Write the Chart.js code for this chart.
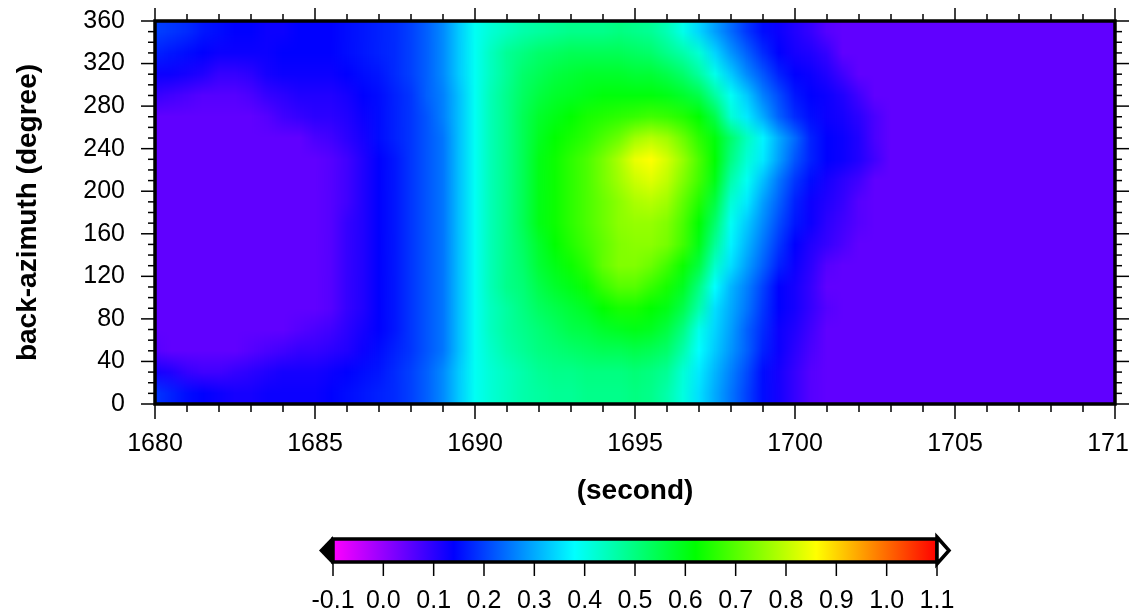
<!DOCTYPE html>
<html>
<head>
<meta charset="utf-8">
<title>back-azimuth</title>
<script src="https://cdn.jsdelivr.net/npm/chart.js@4/dist/chart.umd.min.js"></script>
<style>
    html, body { margin: 0; padding: 0; background: #fff; overflow: hidden; width: 1132px; height: 615px; }
    canvas { position: absolute; left: 0; }
    #main-chart { top: 0; clip-path: inset(0 70px 0 0); }
    #bar-chart { top: 520px; }
</style>
</head>
<body>
<canvas id="main-chart" width="1200" height="520"></canvas>
<canvas id="bar-chart" width="1132" height="95"></canvas>
<script>
// time nodes, one every 0.5 s
const times = [1680,1680.5,1681,1681.5,1682,1682.5,1683,1683.5,1684,1684.5,1685,1685.5,1686,1686.5,1687,1687.5,1688,1688.5,1689,1689.5,1690,1690.5,1691,1691.5,1692,1692.5,1693,1693.5,1694,1694.5,1695,1695.5,1696,1696.5,1697,1697.5,1698,1698.5,1699,1699.5,1700,1700.5,1701,1701.5,1702,1702.5,1703,1703.5,1704,1704.5,1705,1705.5,1706,1706.5,1707,1707.5,1708,1708.5,1709,1709.5,1710];
// lower edge of each azimuth band, same order as the rows below
const azimuths = [340,320,300,280,260,240,220,200,180,160,140,120,100,80,60,40,20,0];
const azStep = 20;

// values at each time node
const az350 = [.20,.19,.18,.16,.15,.14,.14,.13,.13,.14,.14,.14,.15,.16,.17,.18,.20,.23,.27,.33,.39,.42,.44,.46,.47,.48,.49,.49,.49,.50,.49,.48,.45,.40,.34,.29,.24,.19,.15,.13,.11,.09,.06,.05,.05,.05,.05,.05,.05,.05,.05,.05,.05,.05,.05,.05,.05,.05,.05,.05,.05];
const az330 = [.17,.16,.15,.14,.13,.13,.13,.13,.14,.14,.14,.14,.15,.16,.17,.18,.20,.23,.27,.33,.39,.44,.48,.50,.52,.53,.54,.54,.54,.54,.53,.52,.49,.46,.42,.34,.28,.23,.18,.14,.12,.11,.09,.05,.05,.05,.05,.05,.05,.05,.05,.05,.05,.05,.05,.05,.05,.05,.05,.05,.05];
const az310 = [.13,.13,.12,.11,.09,.09,.10,.12,.13,.13,.13,.13,.14,.15,.16,.18,.20,.23,.27,.33,.39,.44,.48,.52,.54,.56,.57,.58,.58,.58,.57,.57,.55,.52,.47,.40,.33,.27,.22,.17,.14,.13,.11,.08,.05,.05,.05,.05,.05,.05,.05,.05,.05,.05,.05,.05,.05,.05,.05,.05,.05];
const az290 = [.09,.08,.07,.06,.06,.06,.07,.09,.10,.11,.11,.11,.12,.14,.15,.17,.19,.23,.26,.32,.39,.45,.49,.53,.56,.58,.59,.60,.61,.61,.61,.61,.60,.58,.55,.47,.39,.33,.26,.21,.16,.14,.13,.11,.08,.05,.05,.05,.05,.05,.05,.05,.05,.05,.05,.05,.05,.05,.05,.05,.05];
const az270 = [.05,.05,.05,.05,.05,.05,.05,.06,.08,.09,.10,.10,.11,.13,.15,.17,.19,.22,.26,.32,.39,.45,.49,.54,.58,.60,.62,.64,.65,.66,.67,.68,.67,.65,.62,.55,.42,.36,.30,.23,.18,.15,.13,.12,.10,.07,.05,.05,.05,.05,.05,.05,.05,.05,.05,.05,.05,.05,.05,.05,.05];
const az250 = [.05,.05,.05,.05,.05,.05,.05,.05,.05,.05,.07,.08,.10,.12,.15,.17,.19,.22,.25,.32,.39,.45,.49,.54,.59,.62,.64,.66,.69,.72,.77,.79,.77,.72,.66,.61,.52,.44,.37,.30,.24,.17,.14,.13,.11,.07,.05,.05,.05,.05,.05,.05,.05,.05,.05,.05,.05,.05,.05,.05,.05];
const az230 = [.05,.05,.05,.05,.05,.05,.05,.05,.05,.05,.05,.06,.08,.11,.14,.16,.19,.22,.25,.32,.39,.45,.49,.54,.60,.63,.66,.69,.73,.78,.84,.86,.82,.76,.69,.62,.50,.42,.36,.29,.22,.17,.14,.13,.11,.08,.05,.05,.05,.05,.05,.05,.05,.05,.05,.05,.05,.05,.05,.05,.05];
const az210 = [.05,.05,.05,.05,.05,.05,.05,.05,.05,.05,.05,.06,.08,.11,.14,.16,.19,.22,.25,.32,.39,.45,.49,.54,.60,.63,.66,.69,.73,.77,.81,.83,.80,.74,.68,.60,.46,.39,.32,.25,.19,.15,.12,.10,.08,.05,.05,.05,.05,.05,.05,.05,.05,.05,.05,.05,.05,.05,.05,.05,.05];
const az190 = [.05,.05,.05,.05,.05,.05,.05,.05,.05,.05,.05,.06,.08,.11,.14,.16,.19,.22,.25,.32,.39,.45,.49,.54,.60,.63,.66,.69,.72,.75,.78,.79,.77,.71,.65,.56,.42,.36,.29,.23,.17,.13,.11,.09,.06,.05,.05,.05,.05,.05,.05,.05,.05,.05,.05,.05,.05,.05,.05,.05,.05];
const az170 = [.05,.05,.05,.05,.05,.05,.05,.05,.05,.05,.05,.06,.09,.11,.14,.16,.19,.22,.25,.32,.39,.45,.49,.54,.60,.63,.66,.69,.72,.75,.76,.76,.74,.69,.62,.52,.39,.33,.27,.21,.16,.13,.10,.08,.06,.05,.05,.05,.05,.05,.05,.05,.05,.05,.05,.05,.05,.05,.05,.05,.05];
const az150 = [.05,.05,.05,.05,.05,.05,.05,.05,.05,.05,.05,.06,.09,.11,.14,.16,.19,.22,.25,.32,.39,.45,.49,.53,.58,.62,.65,.68,.71,.74,.75,.75,.73,.68,.60,.48,.37,.31,.25,.19,.14,.11,.09,.07,.05,.05,.05,.05,.05,.05,.05,.05,.05,.05,.05,.05,.05,.05,.05,.05,.05];
const az130 = [.05,.05,.05,.05,.05,.05,.05,.05,.05,.05,.05,.06,.09,.11,.14,.16,.19,.22,.25,.32,.39,.45,.49,.52,.57,.60,.63,.66,.71,.74,.74,.72,.68,.63,.56,.43,.35,.29,.23,.17,.13,.10,.06,.05,.05,.05,.05,.05,.05,.05,.05,.05,.05,.05,.05,.05,.05,.05,.05,.05,.05];
const az110 = [.05,.05,.05,.05,.05,.05,.05,.05,.05,.05,.05,.06,.09,.11,.14,.16,.19,.22,.25,.32,.39,.45,.49,.51,.55,.58,.60,.63,.67,.70,.70,.67,.64,.59,.50,.38,.31,.26,.20,.14,.12,.09,.05,.05,.05,.05,.05,.05,.05,.05,.05,.05,.05,.05,.05,.05,.05,.05,.05,.05,.05];
const az90 = [.05,.05,.05,.05,.05,.05,.05,.05,.05,.05,.05,.06,.09,.11,.14,.16,.19,.22,.25,.32,.39,.44,.47,.50,.53,.55,.57,.59,.62,.64,.64,.62,.60,.55,.46,.35,.30,.25,.19,.14,.12,.09,.06,.05,.05,.05,.05,.05,.05,.05,.05,.05,.05,.05,.05,.05,.05,.05,.05,.05,.05];
const az70 = [.05,.05,.05,.05,.05,.05,.05,.05,.05,.06,.07,.08,.10,.12,.14,.16,.19,.22,.25,.32,.39,.44,.47,.49,.51,.53,.55,.56,.58,.59,.60,.59,.56,.50,.40,.34,.29,.23,.18,.13,.11,.08,.05,.05,.05,.05,.05,.05,.05,.05,.05,.05,.05,.05,.05,.05,.05,.05,.05,.05,.05];
const az50 = [.06,.05,.05,.05,.05,.05,.06,.07,.08,.09,.09,.10,.11,.13,.15,.17,.19,.22,.25,.32,.39,.43,.46,.48,.50,.51,.52,.53,.54,.54,.55,.54,.52,.46,.38,.33,.28,.23,.17,.13,.10,.07,.05,.05,.05,.05,.05,.05,.05,.05,.05,.05,.05,.05,.05,.05,.05,.05,.05,.05,.05];
const az30 = [.12,.11,.09,.08,.08,.09,.10,.11,.12,.12,.12,.13,.14,.15,.16,.18,.20,.23,.27,.33,.39,.42,.44,.46,.48,.49,.49,.50,.50,.50,.51,.50,.48,.42,.36,.31,.26,.21,.15,.12,.09,.06,.05,.05,.05,.05,.05,.05,.05,.05,.05,.05,.05,.05,.05,.05,.05,.05,.05,.05,.05];
const az10 = [.19,.17,.15,.14,.13,.12,.12,.13,.13,.13,.13,.14,.15,.16,.17,.18,.20,.23,.27,.33,.39,.42,.44,.46,.47,.48,.48,.49,.49,.49,.50,.49,.46,.41,.35,.30,.25,.20,.15,.12,.09,.06,.05,.05,.05,.05,.05,.05,.05,.05,.05,.05,.05,.05,.05,.05,.05,.05,.05,.05,.05];
const rows = [az350,az330,az310,az290,az270,az250,az230,az210,az190,az170,az150,az130,az110,az90,az70,az50,az30,az10];

const xTicks = [1680,1685,1690,1695,1700,1705,1710];
const xMinorTicks = [1681,1682,1683,1684,1686,1687,1688,1689,1691,1692,1693,1694,1696,1697,1698,1699,1701,1702,1703,1704,1706,1707,1708,1709];
const yTicks = [0,40,80,120,160,200,240,280,320,360];
const yMinorTicks = [10,20,30,50,60,70,90,100,110,130,140,150,170,180,190,210,220,230,250,260,270,290,300,310,330,340,350];

const barTicks = [-0.1,0,0.1,0.2,0.3,0.4,0.5,0.6,0.7,0.8,0.9,1.0,1.1];
const barStops = [-0.1,0.14,0.38,0.62,0.86,1.1];
const barColors = [[255,0,255],[0,0,255],[0,255,255],[0,255,0],[255,255,0],[255,0,0]];

const fontName = '"Liberation Sans", Arial, sans-serif';
const tickFont = { family: fontName, size: 25 };
const titleFont = { family: fontName, size: 28, weight: 'bold' };

function colorFor(v) {
    let i = 0;
    while (i < barStops.length - 2 && v > barStops[i + 1]) i++;
    const f = Math.min(1, Math.max(0, (v - barStops[i]) / (barStops[i + 1] - barStops[i])));
    const a = barColors[i], b = barColors[i + 1];
    return 'rgb(' + a.map((c, k) => Math.round(c + (b[k] - c) * f)).join(',') + ')';
}

// one floating bar per grid cell
const cells = [];
rows.forEach((row, r) => {
    for (let i = 0; i < times.length - 1; i++) {
        cells.push({
            x: (times[i] + times[i + 1]) / 2,
            y: [azimuths[r], azimuths[r] + azStep],
            from: times[i], to: times[i + 1],
            v0: row[i], v1: row[i + 1]
        });
    }
});

function cellFill(context) {
    const c = context.raw;
    if (!c) return 'transparent';
    const x = context.chart.scales.x;
    const x0 = x.getPixelForValue(c.from), x1 = x.getPixelForValue(c.to);
    // the scale has no size yet on the first pass
    if (!isFinite(x0) || !isFinite(x1)) return colorFor(c.v0);
    const g = context.chart.ctx.createLinearGradient(x0, 0, x1, 0);
    g.addColorStop(0, colorFor(c.v0));
    g.addColorStop(1, colorFor(c.v1));
    return g;
}

function line(ctx, x0, y0, x1, y1) {
    ctx.beginPath();
    ctx.moveTo(x0, y0);
    ctx.lineTo(x1, y1);
    ctx.stroke();
}

// soften the steps between azimuth bands, like the smooth shading of the original
const smoothPlugin = {
    id: 'smooth',
    afterDatasetsDraw(chart) {
        const { ctx, canvas, chartArea: a } = chart;
        const w = a.right - a.left, h = a.bottom - a.top;
        const small = document.createElement('canvas');
        small.width = w;
        small.height = rows.length;
        const sctx = small.getContext('2d');
        sctx.imageSmoothingEnabled = false;
        sctx.drawImage(canvas, a.left, a.top, w, h, 0, 0, w, rows.length);
        ctx.save();
        ctx.imageSmoothingEnabled = true;
        ctx.imageSmoothingQuality = 'high';
        ctx.drawImage(small, a.left, a.top, w, h);
        ctx.restore();
    }
};

const framePlugin = {
    id: 'frame',
    afterDraw(chart) {
        const { ctx, chartArea: a, scales } = chart;
        ctx.save();
        ctx.strokeStyle = '#000';
        ctx.lineWidth = 1.5;
        xTicks.forEach(v => {
            const p = scales.x.getPixelForValue(v);
            line(ctx, p, a.top - 13, p, a.top);
            line(ctx, p, a.bottom, p, a.bottom + 15);
        });
        xMinorTicks.forEach(v => {
            const p = scales.x.getPixelForValue(v);
            line(ctx, p, a.top - 7, p, a.top);
            line(ctx, p, a.bottom, p, a.bottom + 8);
        });
        yTicks.forEach(v => {
            const p = scales.y.getPixelForValue(v);
            line(ctx, a.left - 14, p, a.left, p);
            line(ctx, a.right, p, a.right + 14, p);
        });
        yMinorTicks.forEach(v => {
            const p = scales.y.getPixelForValue(v);
            line(ctx, a.left - 7, p, a.left, p);
            line(ctx, a.right, p, a.right + 7, p);
        });
        ctx.lineWidth = 3.5;
        ctx.strokeRect(a.left, a.top, a.right - a.left, a.bottom - a.top);
        ctx.restore();
    }
};

new Chart(document.getElementById('main-chart'), {
    type: 'bar',
    data: {
        datasets: [{
            data: cells,
            backgroundColor: cellFill,
            borderWidth: 0,
            inflateAmount: 0.5,
            categoryPercentage: 1,
            barPercentage: 1
        }]
    },
    options: {
        responsive: false,
        animation: false,
        events: [],
        layout: { autoPadding: false, padding: { top: 21, right: 85 } },
        plugins: { legend: { display: false }, tooltip: { enabled: false } },
        scales: {
            x: {
                type: 'linear',
                offset: false,
                min: 1680,
                max: 1710,
                grid: { display: false },
                border: { display: false },
                afterBuildTicks: s => { s.ticks = xTicks.map(v => ({ value: v })); },
                afterFit: s => { s.height = 116; s.paddingLeft = 0; s.paddingRight = 0; },
                ticks: { color: '#000', font: tickFont, padding: 17, maxRotation: 0, autoSkip: false, callback: v => String(v) },
                title: { display: true, text: '(second)', color: '#000', font: titleFont, padding: { top: 0, bottom: 12 } }
            },
            y: {
                min: 0,
                max: 360,
                grid: { display: false },
                border: { display: false },
                afterBuildTicks: s => { s.ticks = yTicks.map(v => ({ value: v })); },
                afterFit: s => { s.width = 155; s.paddingTop = 0; s.paddingBottom = 0; },
                ticks: { color: '#000', font: tickFont, padding: 22, autoSkip: false, callback: v => String(v) },
                title: { display: true, text: 'back-azimuth (degree)', color: '#000', font: titleFont, padding: { top: 11, bottom: 0 } }
            }
        }
    },
    plugins: [smoothPlugin, framePlugin]
});

function barFill(context) {
    const a = context.chart.chartArea;
    if (!a || !isFinite(a.left) || !isFinite(a.right)) return 'transparent';
    const g = context.chart.ctx.createLinearGradient(a.left, 0, a.right, 0);
    barStops.forEach((v, i) => g.addColorStop((v - barStops[0]) / (barStops[barStops.length - 1] - barStops[0]), colorFor(v)));
    return g;
}

const barFramePlugin = {
    id: 'barFrame',
    afterDraw(chart) {
        const { ctx, chartArea: a, scales } = chart;
        const mid = (a.top + a.bottom) / 2;
        ctx.save();
        ctx.strokeStyle = '#000';
        ctx.lineWidth = 1.5;
        barTicks.forEach(v => {
            const p = scales.x.getPixelForValue(v);
            line(ctx, p, a.bottom, p, a.bottom + 14);
        });
        ctx.lineWidth = 3.5;
        ctx.strokeRect(a.left, a.top, a.right - a.left, a.bottom - a.top);
        // out-of-range triangles, black below and white above
        ctx.fillStyle = '#000';
        ctx.beginPath();
        ctx.moveTo(a.left, a.top - 3);
        ctx.lineTo(a.left - 14, mid);
        ctx.lineTo(a.left, a.bottom + 3);
        ctx.closePath();
        ctx.fill();
        ctx.fillStyle = '#fff';
        ctx.beginPath();
        ctx.moveTo(a.right, a.top - 2);
        ctx.lineTo(a.right + 12, mid);
        ctx.lineTo(a.right, a.bottom + 2);
        ctx.closePath();
        ctx.fill();
        ctx.stroke();
        ctx.restore();
    }
};

new Chart(document.getElementById('bar-chart'), {
    type: 'bar',
    data: {
        labels: ['bar'],
        datasets: [{
            data: [[barTicks[0], barTicks[barTicks.length - 1]]],
            backgroundColor: barFill,
            borderWidth: 0,
            categoryPercentage: 1,
            barPercentage: 1
        }]
    },
    options: {
        indexAxis: 'y',
        responsive: false,
        animation: false,
        events: [],
        layout: { autoPadding: false, padding: { left: 333, right: 195, top: 19 } },
        plugins: { legend: { display: false }, tooltip: { enabled: false } },
        scales: {
            x: {
                type: 'linear',
                min: -0.1,
                max: 1.1,
                grid: { display: false },
                border: { display: false },
                afterBuildTicks: s => { s.ticks = barTicks.map(v => ({ value: v })); },
                afterFit: s => { s.height = 53; s.paddingLeft = 0; s.paddingRight = 0; },
                ticks: { color: '#000', font: tickFont, padding: 16, maxRotation: 0, autoSkip: false, callback: v => v.toFixed(1) }
            },
            y: { display: false }
        }
    },
    plugins: [barFramePlugin]
});
</script>
</body>
</html>
